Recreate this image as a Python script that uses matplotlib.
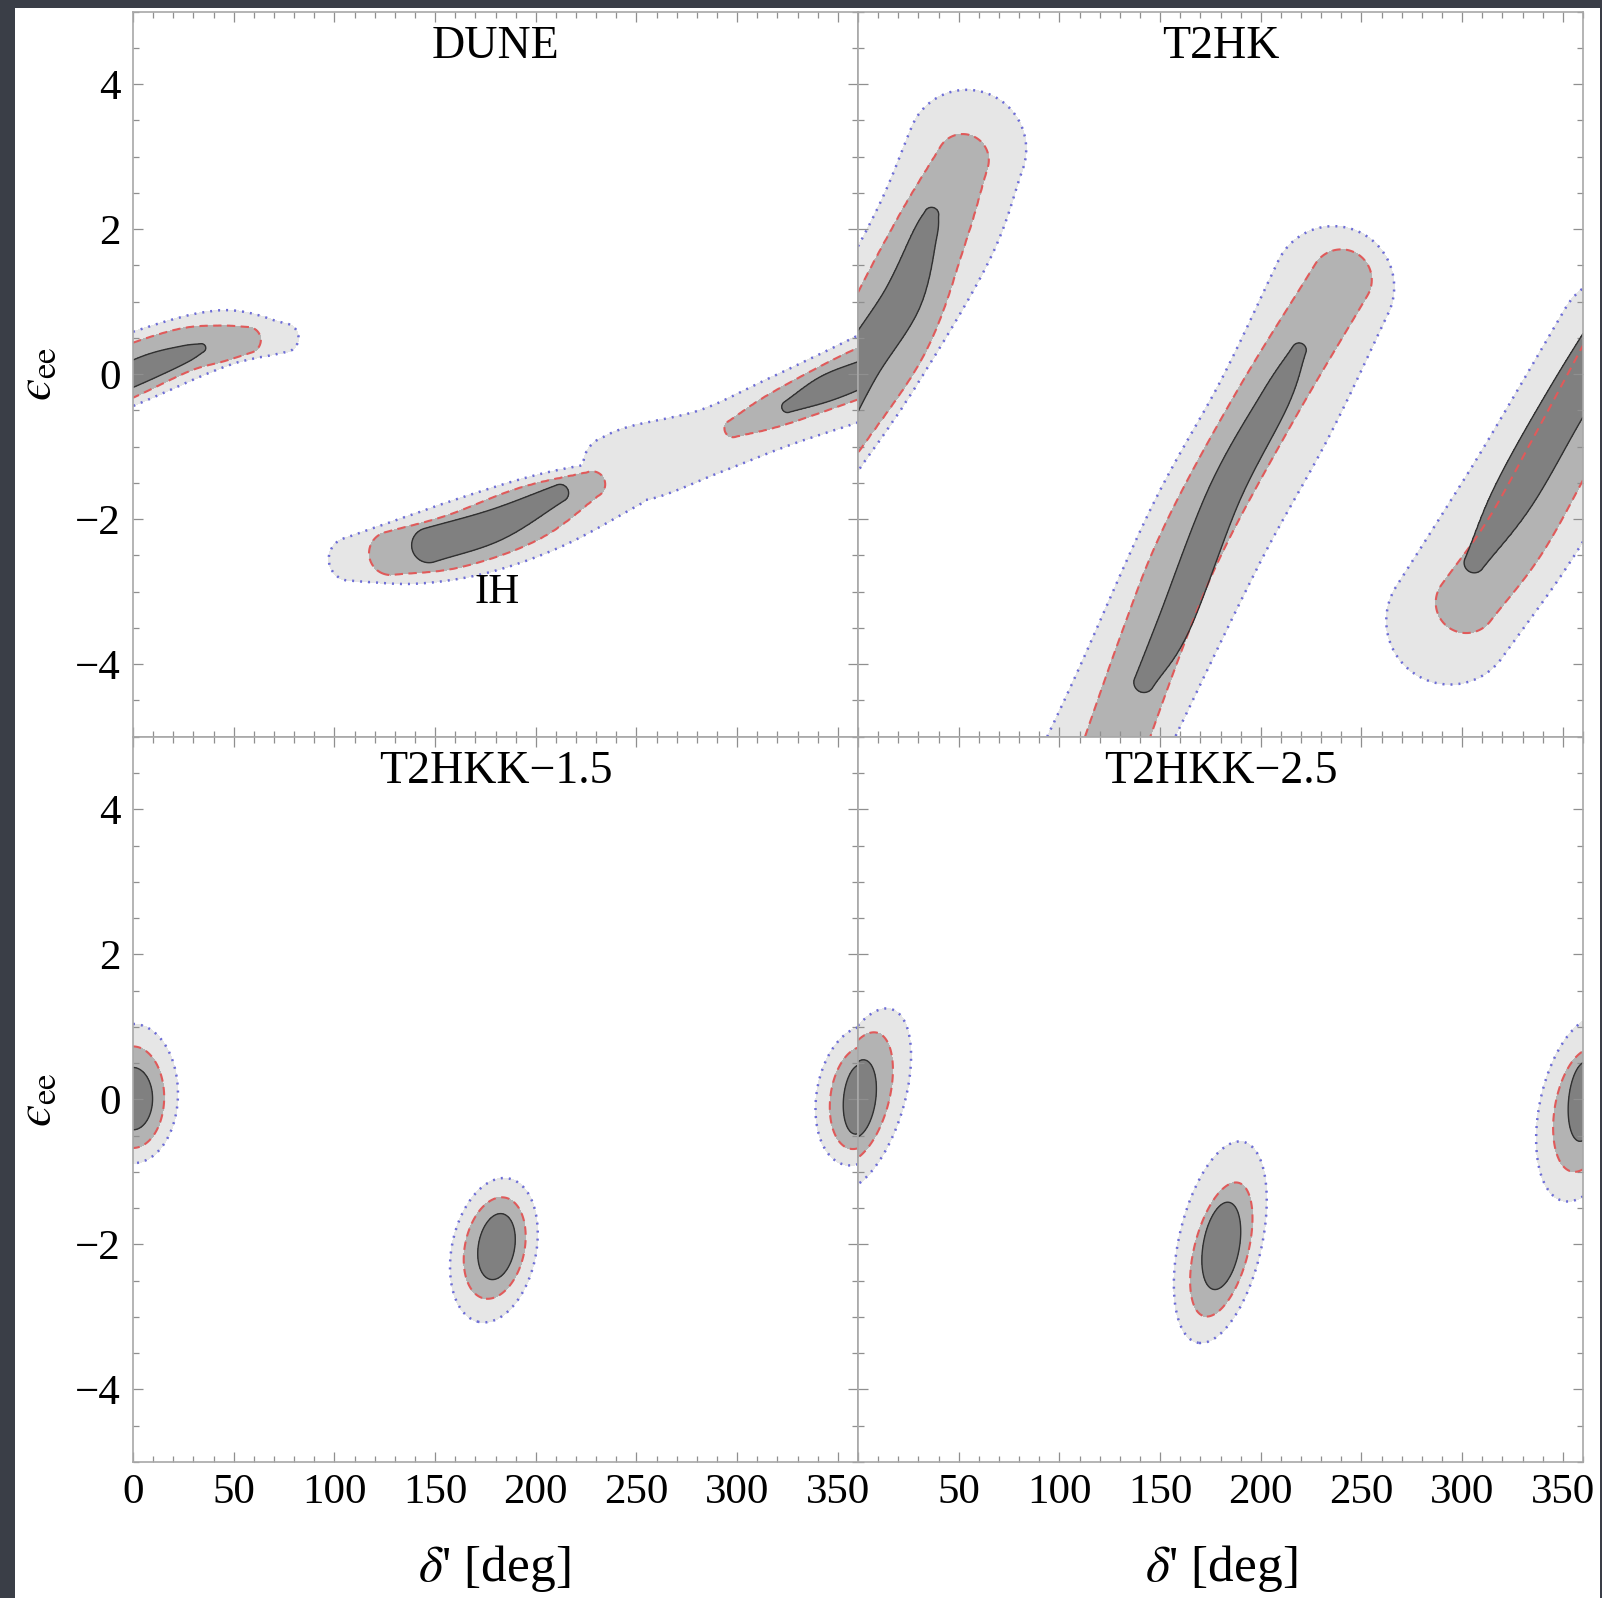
import numpy as np
import matplotlib.pyplot as plt
from matplotlib.patches import Rectangle

plt.rcParams['font.family'] = ['Liberation Serif', 'DejaVu Serif']
plt.rcParams['mathtext.fontset'] = 'stix'

titles = ['DUNE', 'T2HK', 'T2HKK\u22121.5', 'T2HKK\u22122.5']
x_ticks = [0, 50, 100, 150, 200, 250, 300, 350]
y_ticks = [-4, -2, 0, 2, 4]

# allowed regions
# bands: ridge lines of (delta [deg], eps_ee, half width in eps units)
dune_1s = [[(147, -2.36, 0.24), (180, -2.08, 0.22), (212, -1.64, 0.12)],
           [(325, -0.45, 0.08), (344, -0.2, 0.18), (362, 0.0, 0.18), (375, 0.15, 0.15)],
           [(-15, -0.18, 0.17), (8, 0.1, 0.17), (25, 0.27, 0.12), (34, 0.36, 0.06)]]
dune_2s = [[(128, -2.47, 0.3), (160, -2.3, 0.37), (196, -1.93, 0.38), (228, -1.52, 0.18)],
           [(298, -0.75, 0.12), (321, -0.47, 0.24), (360, 0.0, 0.33), (380, 0.2, 0.33)],
           [(-20, -0.2, 0.35), (0, 0.06, 0.35), (25, 0.33, 0.3), (43, 0.42, 0.25), (57, 0.47, 0.18)]]
dune_3s = [[(108, -2.55, 0.3), (140, -2.42, 0.47), (172, -2.2, 0.55), (207, -1.88, 0.52), (245, -1.5, 0.35)],
           [(238, -1.25, 0.4), (252, -1.22, 0.52), (287, -0.92, 0.45), (321, -0.52, 0.48),
            (360, -0.08, 0.55), (380, 0.2, 0.55)],
           [(-20, -0.15, 0.48), (0, 0.08, 0.48), (43, 0.49, 0.39), (75, 0.5, 0.2)]]

t2hk_1s = [[(-20, -1.0, 0.28), (0, 0.08, 0.28), (21.7, 1.02, 0.27), (33, 1.9, 0.17), (36.5, 2.2, 0.1)],
           [(142, -4.25, 0.14), (157, -3.44, 0.23), (182, -1.65, 0.23), (207, -0.35, 0.2), (219, 0.33, 0.1)],
           [(306, -2.6, 0.14), (326, -1.65, 0.29), (353, -0.33, 0.3), (385, 1.1, 0.3)]]
t2hk_2s = [[(-15, -0.9, 0.45), (14, 0.56, 0.6), (36, 1.94, 0.5), (52, 2.95, 0.36)],
           [(110, -6.5, 0.42), (145, -3.75, 0.43), (167, -2.25, 0.44), (202, -0.45, 0.44), (240, 1.3, 0.42)],
           [(302, -3.15, 0.42), (326, -2.25, 0.44), (350, -1.05, 0.44), (380, 0.5, 0.44)]]
t2hk_3s = [[(-20, -1.0, 0.65), (4, 0.24, 0.8), (37.7, 1.94, 0.85), (54, 3.1, 0.82)],
           [(100, -6.5, 0.8), (132.5, -4.6, 0.8), (173, -2.2, 0.84), (207.5, -0.45, 0.84), (236, 1.2, 0.84)],
           [(294, -3.4, 0.88), (322, -2.25, 0.92), (342, -1.35, 0.92), (380, 0.45, 0.92)]]

# blobs: (delta centre, eps centre, semi-major, semi-minor, tilt of major axis [deg])
t2hkk15_1s = [(180.5, -2.03, 0.46, 0.25, 80), (0, 0.01, 0.43, 0.27, 90), (360, 0.0, 0.48, 0.2, 85)]
t2hkk15_2s = [(179.6, -2.05, 0.71, 0.41, 78), (0, 0.03, 0.70, 0.43, 90), (360, 0.02, 0.71, 0.38, 82)]
t2hkk15_3s = [(179.2, -2.08, 1.01, 0.58, 78), (0, 0.08, 0.96, 0.62, 90), (360, 0.05, 0.97, 0.57, 80)]

t2hkk25_1s = [(180.4, -2.02, 0.61, 0.25, 80), (0.5, 0.01, 0.54, 0.23, 82), (360, -0.03, 0.55, 0.2, 85)]
t2hkk25_2s = [(180.4, -2.07, 0.95, 0.37, 75.5), (1, 0.03, 0.92, 0.40, 75), (360, -0.15, 0.86, 0.39, 80)]
t2hkk25_3s = [(179.9, -1.97, 1.42, 0.57, 77), (3, 0.0, 1.3, 0.55, 73), (360, -0.13, 1.3, 0.6, 78)]

fills = ['#e6e6e6', '#b3b3b3', '#808080']
line_colors = ['#6c6cd6', '#e05a5a', '#303030']
line_styles = [(0, (0.8, 2.4)), (0, (4, 2.6)), 'solid']
line_widths = [1.8, 1.5, 1.0]

DEG = 36.0  # degrees per eps unit on the page


def smooth_ridge(ridge, n=10):
  # Catmull-Rom through the ridge points, in page-like units
  P = np.array([(x / DEG, y, w) for x, y, w in ridge])
  P = np.vstack([2 * P[0] - P[1], P, 2 * P[-1] - P[-2]])
  out = []
  t = np.linspace(0, 1, n, endpoint=False)[:, None]
  for i in range(1, len(P) - 2):
    p0, p1, p2, p3 = P[i - 1], P[i], P[i + 1], P[i + 2]
    out.append(0.5 * (2 * p1 + (-p0 + p2) * t + (2 * p0 - 5 * p1 + 4 * p2 - p3) * t ** 2
                      + (-p0 + 3 * p1 - 3 * p2 + p3) * t ** 3))
  out.append(P[-2][None, :])
  return np.vstack(out)


def band_field(U, V, ridge):
  f = np.full(U.shape, np.inf)
  R = smooth_ridge(ridge)
  for (ax_, ay, w1), (bx, by, w2) in zip(R[:-1], R[1:]):
    dx, dy = bx - ax_, by - ay
    t = np.clip(((U - ax_) * dx + (V - ay) * dy) / (dx * dx + dy * dy + 1e-12), 0, 1)
    d = np.hypot(U - ax_ - t * dx, V - ay - t * dy)
    f = np.minimum(f, d / (w1 + t * (w2 - w1)))
  return f


def blob_field(U, V, blob):
  cx, cy, a, b, ang = blob
  c, s = np.cos(np.radians(ang)), np.sin(np.radians(ang))
  du, dv = U - cx / DEG, V - cy
  p = du * c + dv * s
  q = -du * s + dv * c
  return np.sqrt((p / a) ** 2 + (q / b) ** 2)


def region(U, V, bands, blobs):
  f = np.full(U.shape, np.inf)
  for r in bands:
    f = np.minimum(f, band_field(U, V, r))
  for b in blobs:
    f = np.minimum(f, blob_field(U, V, b))
  return f


panels = [
  ([dune_3s, dune_2s, dune_1s], [[], [], []]),
  ([t2hk_3s, t2hk_2s, t2hk_1s], [[], [], []]),
  ([[], [], []], [t2hkk15_3s, t2hkk15_2s, t2hkk15_1s]),
  ([[], [], []], [t2hkk25_3s, t2hkk25_2s, t2hkk25_1s]),
]

W, H = 1602, 1598
fig = plt.figure(figsize=(W / 100, H / 100), dpi=100, facecolor='#3a3e47')
fig.add_artist(Rectangle((15 / W, 0), (1600 - 15) / W, 1 - 8 / H, transform=fig.transFigure,
                         facecolor='white', edgecolor='none', zorder=-5))

L, PW = 133 / W, 725 / W
PH = 725.25 / H
bottoms = [1 - 736.75 / H, 1 - 736.75 / H, 1 - 1462 / H, 1 - 1462 / H]
lefts = [L, L + PW, L, L + PW]

xs = np.linspace(0, 360, 601)
ys = np.linspace(-5, 5, 451)
X, Y = np.meshgrid(xs, ys)
U, V = X / DEG, Y

for i, (bands, blobs) in enumerate(panels):
  ax = fig.add_axes([lefts[i], bottoms[i], PW, PH])
  ax.set_facecolor('white')
  for k in range(3):
    f = region(U, V, bands[k], blobs[k])
    ax.contourf(X, Y, f, levels=[-1, 1], colors=[fills[k]])
    cs = ax.contour(X, Y, f, levels=[1], colors=[line_colors[k]], linewidths=line_widths[k])
    cs.set_linestyle(line_styles[k])
  ax.set_xlim(0, 360)
  ax.set_ylim(-5, 5)
  ax.set_xticks(x_ticks)
  ax.set_xticks(np.arange(0, 361, 10), minor=True)
  ax.set_yticks(y_ticks)
  ax.set_yticks(np.arange(-5, 5.01, 0.5), minor=True)
  ax.set_yticklabels([f'{t}'.replace('-', '\u2212') for t in y_ticks])
  if i == 3:
    ax.set_xticklabels(['' if t == 0 else str(t) for t in x_ticks])
  ax.tick_params(which='both', direction='in', top=True, right=True, color='#8f8f8f',
                 width=0.9, labelsize=31)
  ax.tick_params(which='major', length=7)
  ax.tick_params(which='minor', length=4)
  ax.tick_params(axis='x', pad=8)
  ax.tick_params(axis='y', pad=9)
  if i < 2:
    ax.tick_params(labelbottom=False)
  if i % 2 == 1:
    ax.tick_params(labelleft=False)
  for sp in ax.spines.values():
    sp.set_color('#a8a8a8')
    sp.set_linewidth(1.2)
  ax.text(180, 4.52, titles[i], ha='center', va='center', fontsize=33)
  if i == 0:
    ax.text(181, -3.02, 'IH', ha='center', va='center', fontsize=31)

for yc in [374, 1100]:
  fig.text(37 / W, 1 - yc / H, '$\u03f5_{\\mathrm{ee}}$', rotation=90, ha='center', va='center',
           fontsize=36)
for xc in [494, 1221]:
  fig.text(xc / W, 1 - 1569 / H, r"$\delta$' [deg]", ha='center', va='center', fontsize=37)

fig.savefig('out.png', dpi=100, facecolor=fig.get_facecolor())
